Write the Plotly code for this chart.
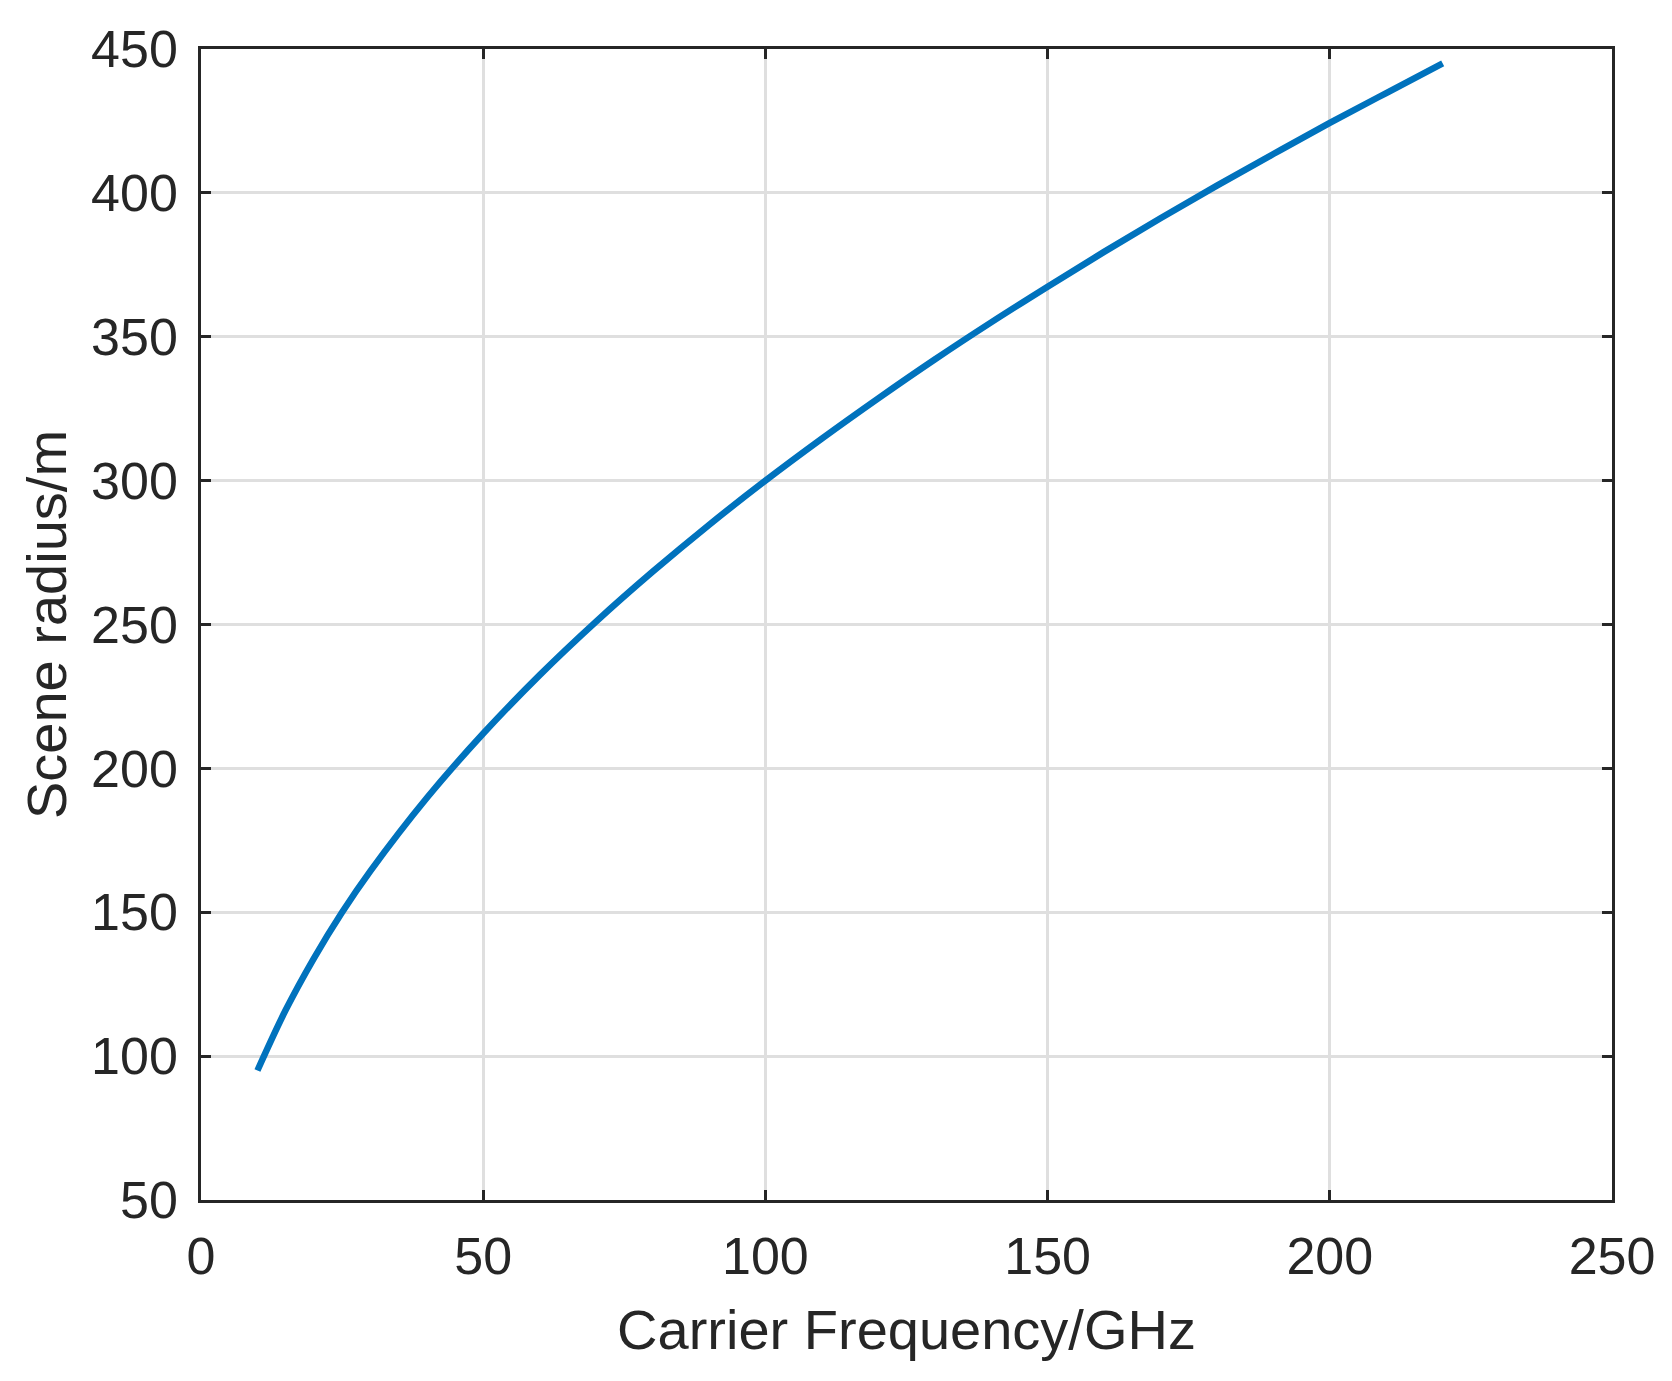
import plotly.graph_objects as go

# values
freq_ghz = [10, 15, 20, 25, 30, 40, 50, 60, 70, 80, 90, 100, 110, 120, 130,
            140, 150, 160, 170, 180, 190, 200, 210, 220]
radius_m = [95.0, 116.0, 134.0, 150.0, 164.3, 189.7, 212.1, 232.4, 251.0, 268.3, 284.6, 300.0,
            314.6, 328.6, 342.1, 355.0, 367.4, 379.5, 391.2, 402.5, 413.5, 424.3, 434.7, 445.0]

x_ticks = [0, 50, 100, 150, 200, 250]
y_ticks = [50, 100, 150, 200, 250, 300, 350, 400, 450]

fig = go.Figure()
fig.add_trace(go.Scatter(
    x=freq_ghz,
    y=radius_m,
    mode="lines",
    line=dict(color="#0072BD", width=6.5, shape="spline", smoothing=1.0),
    showlegend=False,
))

axis_style = dict(
    showline=True,
    linecolor="#262626",
    linewidth=2.5,
    mirror="ticks",
    ticks="inside",
    ticklen=10,
    tickwidth=2.5,
    tickcolor="#262626",
    showgrid=True,
    gridcolor="#dfdfdf",
    gridwidth=2.5,
    zeroline=False,
    tickfont=dict(size=52, color="#262626"),
)

fig.update_xaxes(
    range=[0, 250],
    tickvals=x_ticks,
    ticklabelstandoff=9,
    title=dict(text="Carrier Frequency/GHz", font=dict(size=56, color="#262626"), standoff=26),
    **axis_style,
)
fig.update_yaxes(
    range=[50, 450],
    tickvals=y_ticks,
    ticklabelstandoff=10,
    title=dict(text="Scene radius/m", font=dict(size=56, color="#262626"), standoff=7),
    **axis_style,
)

# page body has an 8px margin, so shift the plot area back
fig.update_layout(
    width=1672,
    height=1381,
    margin=dict(l=193, r=68, t=33, b=189),
    plot_bgcolor="white",
    paper_bgcolor="white",
    font=dict(family="Liberation Sans, Arial, sans-serif"),
)

fig.write_html("out.html")
